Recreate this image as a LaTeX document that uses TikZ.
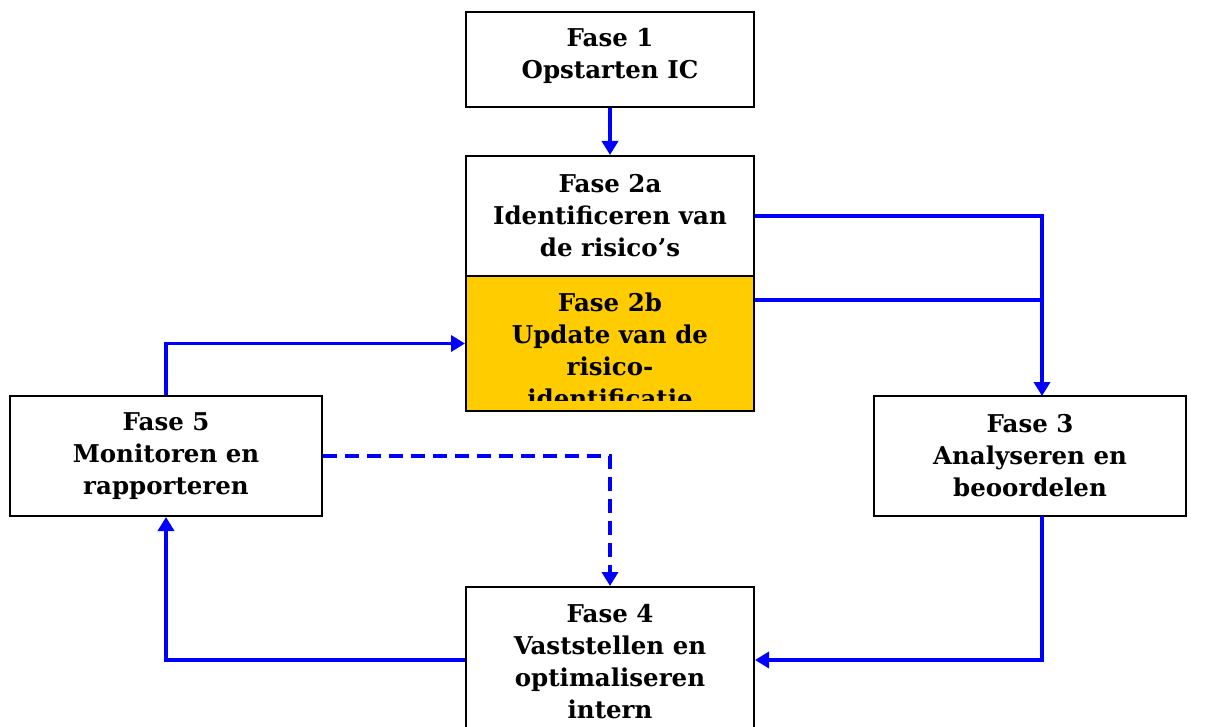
\documentclass[tikz,border=0pt]{standalone}
\usepackage{fontspec}
\setmainfont{DejaVu Serif}
\usetikzlibrary{arrows.meta}
\definecolor{fblue}{RGB}{0,0,255}
\definecolor{forange}{RGB}{255,204,0}
\tikzset{
  box/.style={draw=black, line width=2pt, fill=white, inner sep=0pt, align=center,
    font=\fontsize{24.5}{32}\selectfont\bfseries},
  txt/.style={inner sep=0pt, align=center, font=\fontsize{24.5}{32}\selectfont\bfseries},
  arr/.style={draw=fblue, line width=3.6pt, -{Triangle[length=14pt,width=16pt]}},
  ln/.style={draw=fblue, line width=3.6pt},
}
\begin{document}
\begin{tikzpicture}[x=1pt,y=-1pt]
\useasboundingbox (0,0) rectangle (1210,727);
\clip (0,0) rectangle (1210,727);
% boxes
\node[box, minimum width=288pt, minimum height=95pt] (f1) at (610,59.5) {};
\node[txt] (t1) at (610,56) {Fase 1\\Opstarten IC};
\node[box, minimum width=288pt, minimum height=120pt] (f2a) at (610,216) {Fase 2a\\Identificeren van\\de risico’s};
\node[box, fill=forange, minimum width=288pt, minimum height=135pt] (f2b) at (610,343.5) {};
\begin{scope}
  \clip (468,278) rectangle (752,400);
  \node[txt] (t2b) at (610,350) {Fase 2b\\Update van de\\risico-\\identificatie};
\end{scope}
\node[box, minimum width=312pt, minimum height=120pt] (f5) at (166,456) {Fase 5\\Monitoren en\\rapporteren};
\node[box, minimum width=312pt, minimum height=120pt] (f3) at (1030,456) {Fase 3\\Analyseren en\\beoordelen};
\node[box, minimum width=288pt, minimum height=146pt] (f4) at (610,660) {};
\node[txt] (t4) at (610,662) {Fase 4\\Vaststellen en\\optimaliseren\\intern};
% coordinates
\coordinate (c3top) at (1042,396);
\coordinate (c3bot) at (1042,516);
\coordinate (j) at (1042,300);
% connectors
\draw[arr] (f1.south) -- (f2a.north);
\draw[arr] (f2a.east) -| (c3top);
\draw[ln] (f2b.east |- j) -- (j);
\draw[arr] (c3bot) |- (f4.east);
\draw[arr] (f4.west) -| (f5.south);
\draw[arr] (f5.north) |- (f2b.west);
\draw[arr, dash pattern=on 14pt off 8pt] (f5.east) -| (f4.north);
\end{tikzpicture}
\end{document}
